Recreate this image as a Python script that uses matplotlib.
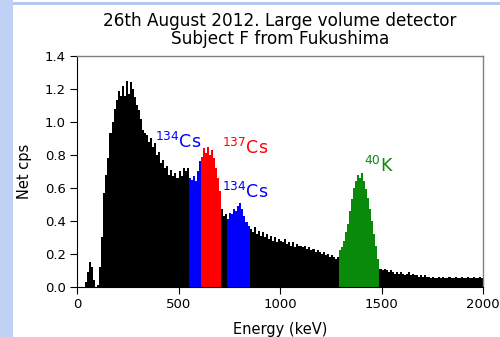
import numpy as np
import matplotlib
matplotlib.use("Agg")
import matplotlib.pyplot as plt
from matplotlib.patches import Rectangle

plt.rcParams['font.family'] = ['DejaVu Sans']
plt.rcParams['mathtext.default'] = 'regular'

bin_width = 10
bin_starts = np.arange(0, 2000, bin_width)
net_cps = [
    0, 0, 0, 0, 0.03, 0.09, 0.15, 0.12, 0.04, 0,
    0.01, 0.12, 0.30, 0.57, 0.68, 0.78, 0.93, 1.00, 1.08, 1.13,
    1.19, 1.16, 1.22, 1.16, 1.25, 1.17, 1.24, 1.20, 1.15, 1.10,
    1.07, 1.02, 0.95, 0.93, 0.92, 0.88, 0.90, 0.85, 0.87, 0.80,
    0.82, 0.75, 0.77, 0.72, 0.73, 0.68, 0.71, 0.67, 0.69, 0.66,
    0.70, 0.67, 0.72, 0.70, 0.72, 0.66, 0.65, 0.67, 0.64, 0.70,
    0.76, 0.79, 0.84, 0.81, 0.85, 0.80, 0.83, 0.78, 0.72, 0.66,
    0.58, 0.47, 0.43, 0.44, 0.41, 0.45, 0.44, 0.47, 0.46, 0.49,
    0.51, 0.47, 0.43, 0.39, 0.37, 0.35, 0.33, 0.36, 0.32, 0.34,
    0.31, 0.33, 0.30, 0.32, 0.29, 0.31, 0.28, 0.30, 0.27, 0.29,
    0.28, 0.27, 0.29, 0.26, 0.27, 0.25, 0.27, 0.24, 0.26, 0.25,
    0.25, 0.24, 0.25, 0.23, 0.24, 0.22, 0.23, 0.21, 0.22, 0.21,
    0.20, 0.21, 0.19, 0.20, 0.18, 0.19, 0.18, 0.17, 0.18, 0.22,
    0.24, 0.28, 0.33, 0.38, 0.46, 0.53, 0.60, 0.64, 0.68, 0.66,
    0.69, 0.64, 0.59, 0.54, 0.47, 0.40, 0.32, 0.25, 0.17, 0.11,
    0.10, 0.11, 0.10, 0.09, 0.10, 0.09, 0.08, 0.09, 0.08, 0.09,
    0.08, 0.07, 0.08, 0.09, 0.07, 0.08, 0.07, 0.07, 0.06, 0.07,
    0.06, 0.07, 0.06, 0.06, 0.05, 0.06, 0.05, 0.05, 0.06, 0.05,
    0.06, 0.05, 0.05, 0.06, 0.05, 0.05, 0.06, 0.05, 0.05, 0.06,
    0.05, 0.05, 0.06, 0.05, 0.05, 0.06, 0.05, 0.05, 0.06, 0.05,
]

# highlighted regions: (start keV, end keV, colour)
regions = [
    (550, 610, '#0000ff'),
    (610, 710, '#ff0000'),
    (740, 850, '#0000ff'),
    (1290, 1490, '#0a8a0a'),
]
# peak labels: (superscript, element, x keV, y cps, colour)
labels = [
    ('134', 'Cs', 385, 0.84, '#0000ff'),
    ('137', 'Cs', 712, 0.805, '#ff0000'),
    ('134', 'Cs', 715, 0.54, '#0000ff'),
    ('40', 'K', 1415, 0.695, '#0a8a0a'),
]

colors = []
for e in bin_starts:
    c = '#000000'
    for lo, hi, col in regions:
        if lo <= e < hi:
            c = col
    colors.append(c)

fig = plt.figure(figsize=(5.0, 3.37), dpi=100)
fig.patch.set_facecolor('white')
fig.patches.append(Rectangle((0, 0), 13/500, 1, transform=fig.transFigure,
                             facecolor='#bfd2f5', edgecolor='none', zorder=0))
fig.patches.append(Rectangle((13/500, 1-5/337), 1, 3/337, transform=fig.transFigure,
                             facecolor='#b4c8f0', edgecolor='none', zorder=0))

ax = fig.add_axes([77/500, 1-286.7/337, 406/500, (286.7-56)/337])
ax.bar(bin_starts, net_cps, width=bin_width, align='edge', color=colors,
       linewidth=0)
ax.set_xlim(0, 2000)
ax.set_ylim(0, 1.4)
ax.set_xticks([0, 500, 1000, 1500, 2000])
ax.set_yticks(np.arange(0, 1.41, 0.2))
ax.set_yticklabels([f'{v:.1f}' for v in np.arange(0, 1.41, 0.2)])
ax.tick_params(direction='out', length=5, width=0.8, labelsize=9.5, pad=3,
               top=False, right=False)
for s in ['top', 'right']:
    ax.spines[s].set_color('#808080')
    ax.spines[s].set_linewidth(1.0)
ax.set_xlabel('Energy (keV)', fontsize=10.5, labelpad=8)
ax.set_ylabel('Net cps', fontsize=10.5, labelpad=9)
ax.set_title('26th August 2012. Large volume detector\nSubject F from Fukushima',
             fontsize=12.2, linespacing=0.95, pad=9)

for sup, el, x, y, col in labels:
    ax.text(x, y, f'$^{{{sup}}}$' + el, color=col, fontsize=12.5,
            ha='left', va='baseline')

fig.savefig('out.png', dpi=100)
